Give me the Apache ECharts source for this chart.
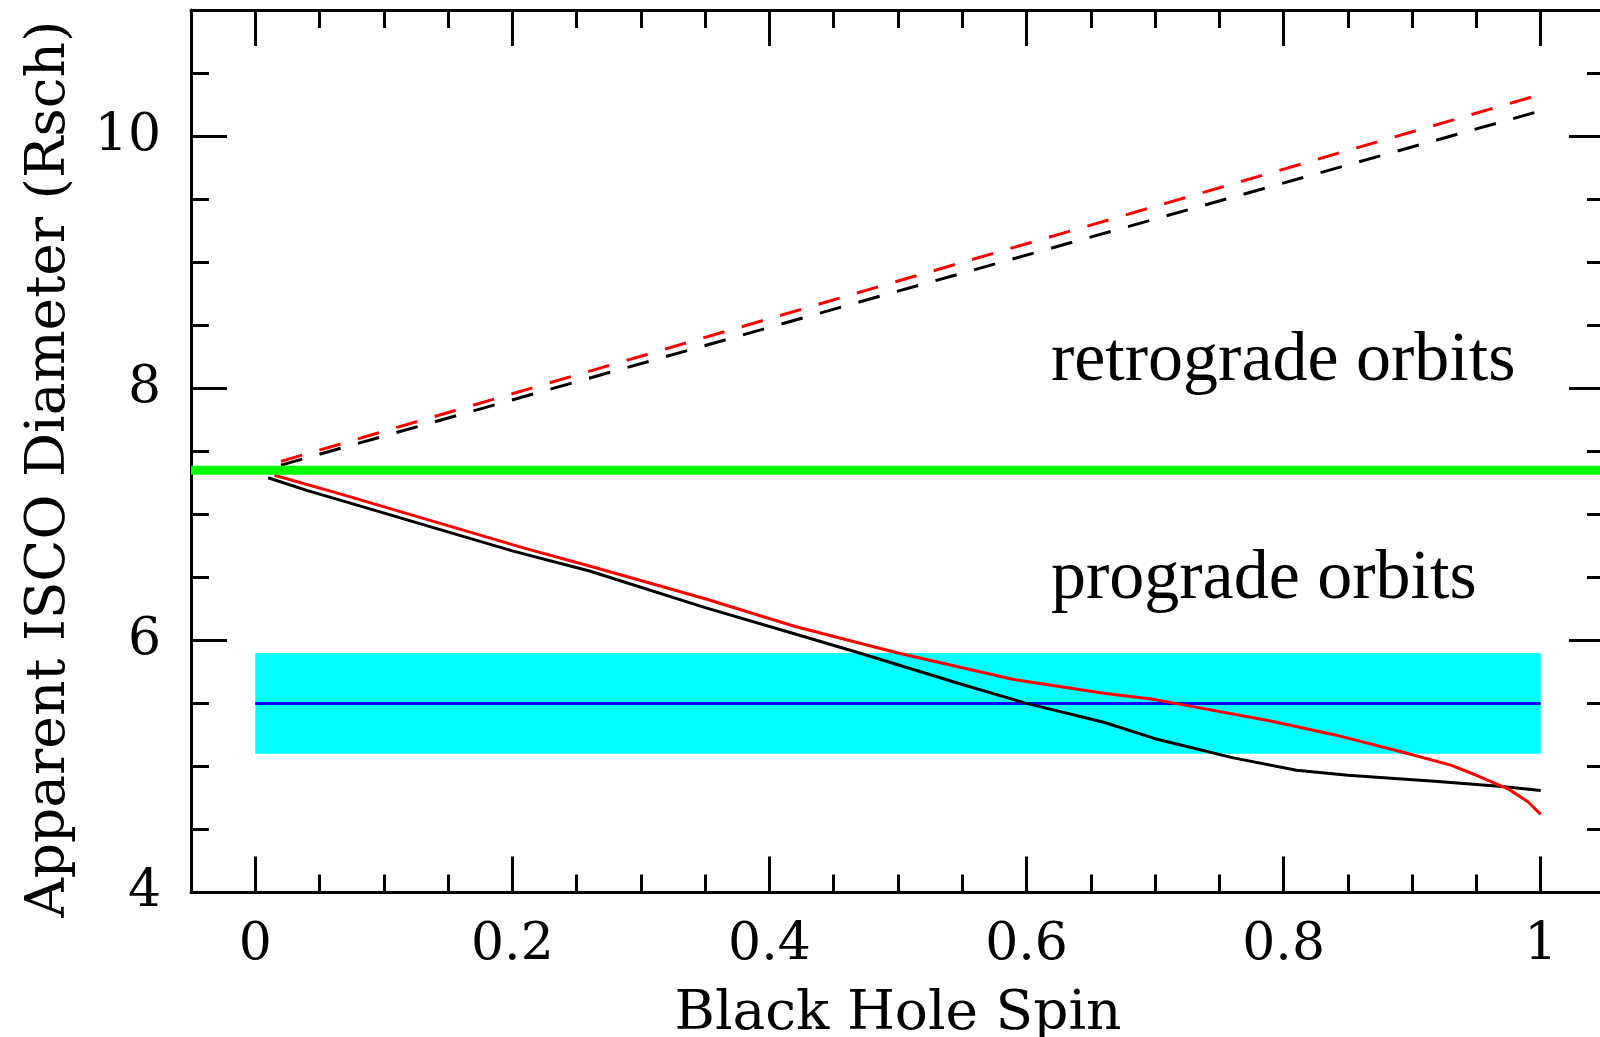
<!DOCTYPE html>
<html>
<head>
<meta charset="utf-8">
<script src="https://cdn.jsdelivr.net/npm/echarts@6.0.0/dist/echarts.min.js"></script>
<style>
  html, body { margin: 0; padding: 0; background: #ffffff; }
  #chart { width: 1600px; height: 1037px; }
</style>
</head>
<body>
<div id="chart"></div>
<script>
// ---- axis ticks ----
const spinMajorTicks = [0, 0.2, 0.4, 0.6, 0.8, 1];
const spinMinorTicks = [0.05, 0.1, 0.15, 0.25, 0.3, 0.35, 0.45, 0.5, 0.55,
                        0.65, 0.7, 0.75, 0.85, 0.9, 0.95];
const diamMajorTicks = [4, 6, 8, 10];
const diamMinorTicks = [4.5, 5, 5.5, 6.5, 7, 7.5, 8.5, 9, 9.5, 10.5];

// ---- prograde orbits, black curve ----
const proBlackSpin = [0.01, 0.04, 0.07, 0.13, 0.2, 0.26, 0.35, 0.42, 0.47, 0.55,
                      0.6, 0.66, 0.7, 0.76, 0.81, 0.85, 0.92, 0.97, 1.0];
const proBlackDiam = [7.29, 7.19, 7.10, 6.92, 6.71, 6.55, 6.26, 6.05, 5.90, 5.65,
                      5.50, 5.35, 5.22, 5.07, 4.97, 4.93, 4.88, 4.84, 4.81];

// ---- prograde orbits, red curve ----
const proRedSpin = [0.015, 0.07, 0.13, 0.21, 0.26, 0.35, 0.42, 0.5, 0.59, 0.66,
                    0.7, 0.79, 0.84, 0.89, 0.93, 0.95, 0.975, 0.99, 1.0];
const proRedDiam = [7.31, 7.15, 6.97, 6.73, 6.59, 6.33, 6.11, 5.90, 5.69, 5.58,
                    5.53, 5.36, 5.25, 5.12, 5.01, 4.93, 4.82, 4.72, 4.62];

// ---- retrograde orbits (dashed) ----
const retroBlackSpin = [0.02, 0.5, 1.0];
const retroBlackDiam = [7.39, 8.77, 10.20];
const retroRedSpin = [0.02, 0.5, 1.0];
const retroRedDiam = [7.42, 8.85, 10.33];

// ---- measured size: central value and band ----
const measSpin = [0, 1];
const measDiam = [5.5, 5.5];
const measBandLow = 5.1;
const measBandHigh = 5.9;

// ---- horizontal green reference ----
const refSpin = [-0.05, 1.05];
const refDiam = [7.35, 7.35];

// ---- region labels ----
const regionText = ['retrograde orbits', 'prograde orbits'];
const regionSpin = [0.619, 0.619];
const regionDiam = [8.21, 6.48];

const X_MIN = -0.05, X_MAX = 1.05, Y_MIN = 4, Y_MAX = 11;
const pairs = (xs, ys) => xs.map((x, i) => [x, ys[i]]);
const BLACK = '#000000';

function xAxisDef(position, ticks, len, withLine, withLabels) {
  const a = {
    type: 'value', position: position, min: X_MIN, max: X_MAX,
    splitLine: { show: false },
    axisLine: { show: withLine, onZero: false, lineStyle: { color: BLACK, width: 3 } },
    axisTick: { show: true, inside: true, length: len, customValues: ticks,
                lineStyle: { color: BLACK, width: 3 } },
    axisLabel: { show: false }
  };
  if (withLabels) {
    a.axisLabel = { show: true, customValues: spinMajorTicks, margin: 27,
                    fontFamily: 'DejaVu Serif', fontSize: 52, color: BLACK };
    a.name = 'Black Hole Spin';
    a.nameLocation = 'middle';
    a.nameGap = 95;
    a.nameTextStyle = { fontFamily: 'DejaVu Serif', fontSize: 55, color: BLACK };
  }
  return a;
}

function yAxisDef(position, ticks, len, withLine, withLabels) {
  const a = {
    type: 'value', position: position, min: Y_MIN, max: Y_MAX,
    splitLine: { show: false },
    axisLine: { show: withLine, onZero: false, lineStyle: { color: BLACK, width: 3 } },
    axisTick: { show: true, inside: true, length: len, customValues: ticks,
                lineStyle: { color: BLACK, width: 3 } },
    axisLabel: { show: false }
  };
  if (withLabels) {
    a.axisLabel = { show: true, customValues: diamMajorTicks, margin: 30,
                    fontFamily: 'DejaVu Serif', fontSize: 52, color: BLACK };
    a.name = 'Apparent ISCO Diameter (Rsch)';
    a.nameLocation = 'middle';
    a.nameRotate = 90;
    a.nameGap = 114;
    a.nameTextStyle = { fontFamily: 'DejaVu Serif', fontSize: 55, color: BLACK,
                        padding: [0, 36, 0, 0] };
  }
  return a;
}

const chart = echarts.init(document.getElementById('chart'), null, { renderer: 'canvas' });

chart.setOption({
  animation: false,
  backgroundColor: '#ffffff',
  grid: { left: 191, right: -5, top: 10, bottom: 144.5,
          containLabel: false, outerBoundsMode: 'none' },
  xAxis: [
    xAxisDef('bottom', spinMajorTicks, 36, true, true),
    xAxisDef('bottom', spinMinorTicks, 18, false, false),
    xAxisDef('top', spinMajorTicks, 36, true, false),
    xAxisDef('top', spinMinorTicks, 18, false, false)
  ],
  yAxis: [
    yAxisDef('left', diamMajorTicks, 36, true, true),
    yAxisDef('left', diamMinorTicks, 18, false, false),
    yAxisDef('right', diamMajorTicks, 36, true, false),
    yAxisDef('right', diamMinorTicks, 18, false, false)
  ],
  series: [
    {
      name: 'measured', type: 'line', silent: true, showSymbol: false,
      data: pairs(measSpin, measDiam),
      lineStyle: { color: '#0000ff', width: 3 },
      markArea: {
        silent: true,
        itemStyle: { color: '#00ffff', opacity: 1 },
        data: [[{ coord: [measSpin[0], measBandLow] },
                { coord: [measSpin[1], measBandHigh] }]]
      }
    },
    {
      name: 'prograde black', type: 'line', silent: true, showSymbol: false,
      data: pairs(proBlackSpin, proBlackDiam),
      lineStyle: { color: BLACK, width: 3 }
    },
    {
      name: 'prograde red', type: 'line', silent: true, showSymbol: false,
      data: pairs(proRedSpin, proRedDiam),
      lineStyle: { color: '#ff0000', width: 3 }
    },
    {
      name: 'retrograde black', type: 'line', silent: true, showSymbol: false,
      data: pairs(retroBlackSpin, retroBlackDiam),
      lineStyle: { color: BLACK, width: 3, type: [22, 18] }
    },
    {
      name: 'retrograde red', type: 'line', silent: true, showSymbol: false,
      data: pairs(retroRedSpin, retroRedDiam),
      lineStyle: { color: '#ff0000', width: 3, type: [22, 18] }
    },
    {
      name: 'reference', type: 'line', silent: true, showSymbol: false,
      data: pairs(refSpin, refDiam),
      lineStyle: { color: '#00ff00', width: 9 }
    },
    {
      name: 'regions', type: 'scatter', silent: true, symbolSize: 0,
      itemStyle: { opacity: 1 },
      data: regionText.map((t, i) => ({ value: [regionSpin[i], regionDiam[i]], name: t })),
      label: {
        show: true, position: [0, 0], align: 'left', verticalAlign: 'middle',
        formatter: p => p.name, opacity: 1,
        fontFamily: 'Liberation Serif', fontSize: 70, color: BLACK
      }
    }
  ]
});
</script>
</body>
</html>
